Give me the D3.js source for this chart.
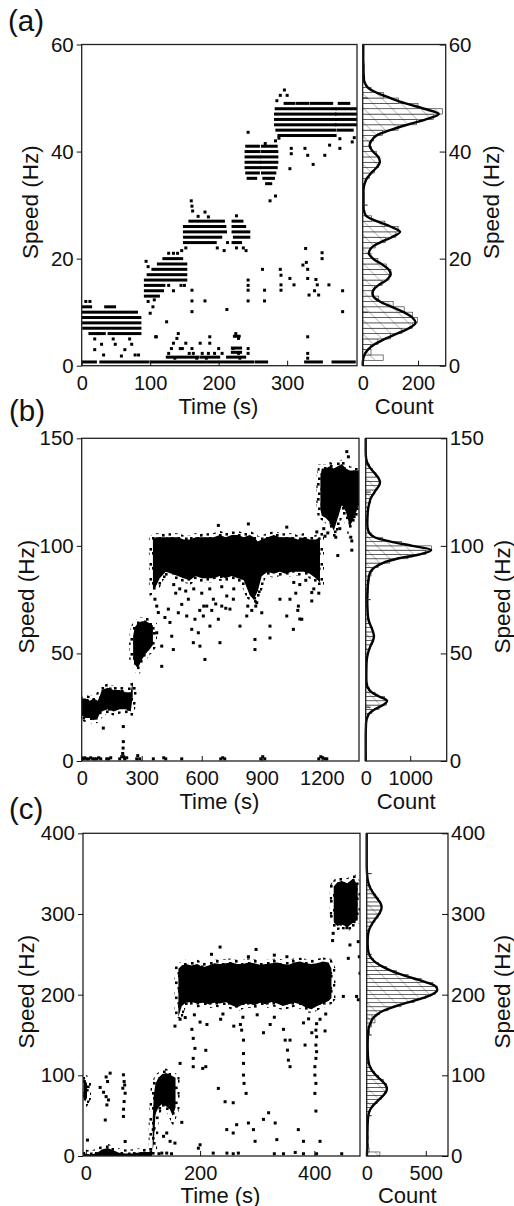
<!DOCTYPE html>
<html>
<head>
<meta charset="utf-8">
<script src="https://cdn.jsdelivr.net/npm/d3@7"></script>
<style>
body { margin: 0; background: #fff; }
</style>
</head>
<body>
<script>
var FONT = '"Liberation Sans", Arial, Helvetica, sans-serif';

/*
* Data
*/

// (a) horizontal runs of points: [t start, t end, speed]
var runsA = [
  [0,13,11],[35,48,11],[0,66,10],[70,80,10],[0,85,9],[0,85,8],[3,85,7],[12,33,6],[40,85,6],
  [93,112,13],[93,118,14],[93,120,15],[93,152,16],[97,152,17],[104,152,18],[112,152,19],[120,146,20],
  [158,207,27],[150,209,26],[150,210,25],[150,203,24],[150,195,23],
  [221,234,27],[221,238,26],[221,244,25],[223,244,24],[221,232,23],
  [241,258,41],[240,259,40],[240,260,39],[240,260,38],[240,260,37],[241,258,36],[243,254,35],
  [264,284,41],[264,285,40],[263,285,39],[263,285,38],[263,284,37],[264,282,36],[266,280,35],[270,276,34],
  [284,370,48],[283,370,47],[283,370,46],[283,370,45],[285,370,44],[288,370,43],
  [297,310,49],[315,330,49],[335,365,49],
  [373,401,48],[372,401,47],[372,401,46],[372,401,45],[375,395,44],[376,390,49],
  [0,4,0.7],[8,20,0.7],[28,96,0.7],[101,180,0.7],[184,250,0.7],[255,270,0.7],[327,350,0.7],[367,398,0.7],
  [125,170,1.6],[175,200,1.6],[213,238,1.6],[220,232,2.5],[220,232,3.3],[223,230,5.5]
];
// (a) isolated points: [t, speed]
var dotsA = [
  [6,12],[12,12],[19,5],[29,4],[19,3],[32,2],[46,5],[49,4],[63,3],[70,5],[73,4],[78,2],[83,2],[58,1.8],[24,6],
  [94,19.5],[97,18.5],[127,21],[134,21],[140,21],[146,21.5],[152,22],[106,12.3],[104,11],[100,9.8],[97,12],
  [127,15],[134,14],[145,15],[150,15],[124,8.2],[108,5.4],
  [160,30.8],[161,29.8],[162,28.9],[180,28.7],[170,27.9],[185,27.8],[198,22],[208,21.5],[226,28],[226,22],
  [236,22],[213,23],[240,21.5],
  [109,5.4],[141,6],[139,5.1],[134,4.2],[131,3.2],[127,2.3],[136,1.4],[144,3.2],[161,3.2],[163,2.3],[173,4.2],
  [187,5.4],[187,4.2],[185,2.3],[194,2.3],[182,1.4],[225,6],[229,5.1],[221,3.2],[229,2.3],[231,1.4],[243,3.2],
  [243,2.3],[152,4.2],[147,3.2],[157,2.3],[168,1.4],[176,2.3],[200,3.2],[205,2.3],[212,10.5],[161,10.1],
  [161,12.1],[161,14.1],[180,12.1],
  [243,43.6],[275,30.8],[283,31.7],[268,41.5],[283,42],
  [296,51.5],[290,50.5],[300,50.5],[285,49.5],[306,40.6],[306,39.6],[304,36.8],[326,40.6],[330,39.3],[338,37.6],
  [355,39.3],[362,41.2],[377,40.6],[377,42.4],[395,41.8],[398,42.6],[288,42.5],
  [243,16],[243,15],[243,14.1],[243,12.1],[264,18],[267,14.1],[267,12.1],[290,18],[291,16.9],[291,15.1],
  [291,14.1],[304,16.3],[310,15.1],[323,18.8],[330,18],[327,21.9],[330,16.3],[332,13.2],[342,16.1],[344,15.1],
  [340,14],[351,21.1],[351,20],[361,15.1],[381,14],[381,10.1],[330,5.4],[330,2.3],[330,1.4],[328,19.3],[346,13.2]
];
// (a) histogram, 1 Hz bins from 0 Hz
var histA = [2,74,30,28,55,100,142,180,198,180, 150,110,58,38,42,70,95,102,85,55,
  30,24,45,82,120,128,80,32,8,4, 3,3,4,5,11,24,42,58,62,50,
  32,26,40,72,128,195,255,288,200,130, 75,30,10,4,3,2,2,2,2,2];
// (a) fitted curve, count at every 1 Hz from 0 Hz
var fitA = [0,1,6,19,43,80,124,167,191,179, 148,105,62,38,37,56,86,101,93,68,
  37,22,31,62,105,135,100,50,12,4, 3,3,3,3,7,15,31,50,62,56,
  37,25,31,50,99,160,228,275,222,155, 100,50,18,6,4,3,3,2,2,2, 2];

// (b) dense clouds: [t, low speed, high speed]
var bandB1 = [[0,21,29],[20,20,29],[40,20,28],[60,19,29],[80,20,28],[90,22,30],[100,23,33],[130,24,34],
  [160,23,33],[190,24,33],[220,24,32],[245,23,32],[255,30,37]];
var bandB2 = [[257,48,58],[265,45,62],[280,43,64],[300,47,65],[320,50,65],[340,52,64],[356,54,63]];
var bandB3 = [[356,80,103],[370,81,104],[390,85,104],[420,88,104],[450,87,104],[480,86,104],[510,85,103],
  [540,84,103],[570,86,104],[600,85,104],[630,85,104],[660,85,104],[690,86,105],[720,85,104],[750,86,105],
  [780,85,105],[810,84,104],[840,77,105],[860,75,104],[880,79,102],[900,86,103],[930,88,104],[960,87,105],
  [990,88,104],[1020,87,104],[1050,88,104],[1080,88,103],[1110,88,104],[1140,87,103],[1170,85,103],[1191,83,104]];
var bandB4 = [[1193,117,132],[1200,114,136],[1220,113,136],[1240,111,137],[1260,107,136],[1280,113,137],
  [1300,119,138],[1320,116,136],[1340,109,135],[1360,113,135],[1386,119,135]];
var dotsB = [
  [366,75.2],[375,72],[383,69],[375,59.6],[400,53.4],[400,44],[416,66.7],[433,70.6],[441,64.4],[458,51.8],
  [450,58],[483,68.9],[500,72.8],[525,67.4],[533,75.2],[550,61.2],[558,55],[566,65.9],[583,59.6],[591,53.4],
  [608,67.4],[616,47.2],[625,72],[641,62.7],[658,75.2],[683,65.9],[691,55],[700,72],[725,76.7],[741,70.6],
  [758,75.2],[791,62.7],[825,67.4],[866,56.5],[866,51.8],[875,73.6],[900,68.9],[941,62.7],[941,57.2],
  [991,75.2],[1025,67.4],[1041,75.2],[1058,61.2],[1083,72],[1100,65.9],[1150,78.3],[1150,74.4],
  [1280,95.5],[1350,102.3],[1216,104.5],[1325,143.8],[1333,141.4],[683,109.5],[833,110.2],[1025,108.7],
  [1175,106.5],[208,16],[108,15.3],
  [460,82],[470,78],[490,80],[520,79],[560,80],[600,78],[640,80],[700,81],[760,80],[830,72],[850,70],
  [870,72],[1060,83],[1090,82],[1120,84],[1160,80],[1185,78],[590,70],[610,72],[650,70],[670,73],[720,71],
  [1070,78],[1080,70],[1090,66],
  [1210,108],[1230,106],[1270,104],[1290,108],[1345,104],[1350,98],
  [0,1],[8,1],[15,1.5],[25,1],[35,1],[45,1.5],[55,1],[65,1],[75,1],[85,1.5],[95,1],[125,1],[135,1],[145,1.5],
  [190,1],[200,2],[205,3.5],[207,6],[208,9],[210,2],[215,1],[225,1.5],[275,1],[280,2.5],[290,1],[358,1],
  [410,1.5],[420,1],[500,1],[695,1],[705,1.5],[715,1],[895,1],[905,2],[915,1],[1185,1],[1195,2],[1205,1.5],
  [1215,1],[1225,1]
];
// (b) histogram, 2 Hz bins from 0 Hz
var histB = [20,3,2,2,2,2,2,3,6,18, 50,140,300,470,420,210,90,35,18,14,
  14,16,18,24,40,65,100,145,180,180, 150,110,75,55,45,40,40,45,50,55,
  60,70,90,120,160,290,540,950,1350,1480, 800,380,130,60,40,38,40,45,55,72,
  98,140,200,265,315,300,230,150,80,30, 8,2,0,0,0];
// (b) fitted curve, count at every 2 Hz from 0 Hz
var fitB = [0,0,0,0,0,0,0,2,5,10, 30,75,200,390,480,300,130,50,22,15,
  14,15,17,20,30,50,80,120,165,185, 165,130,90,60,48,42,38,36,36,38,
  42,50,60,75,110,200,380,700,1200,1470, 1050,560,200,80,45,37,38,42,48,60,
  85,110,170,230,300,320,270,190,110,50, 15,3,0,0,0,0];

// (c) dense clouds
var bandC0 = [[-4,0,3],[10,0,2],[20,0,4],[28,0,8],[38,0,10],[48,0,7],[58,0,4],[70,0,3],[80,0,3],
  [90,0,4],[100,0,5],[110,0,5],[116,0,7]];
var bandC4 = [[-4,70,93],[-1,68,94],[2,72,90]];
var bandC1 = [[117,6,45],[119,18,76],[122,52,90],[127,60,97],[133,64,101],[140,62,103],[147,58,101],
  [152,50,99],[157,60,97]];
var bandC2 = [[162,172,232],[168,186,236],[175,190,238],[185,191,236],[195,189,238],[205,190,234],
  [215,188,236],[225,190,239],[235,189,238],[245,191,239],[255,187,240],[265,184,238],[275,188,238],
  [285,189,240],[295,187,239],[305,190,237],[315,188,238],[325,191,239],[335,189,240],[345,186,238],
  [355,188,237],[365,190,240],[375,188,241],[385,184,239],[395,182,238],[405,186,239],[415,189,241],
  [425,192,240],[430,196,232]];
var bandC3 = [[434,290,334],[440,285,339],[448,287,341],[458,284,338],[468,289,344],[476,294,336]];
var dotsC = [
  [25,85],[31,79],[35.5,98],[35.5,73.6],[39.6,69.5],[34,44.6],[42.5,102.7],[38,92.3],[36.8,63.3],
  [65.8,100.6],[67,92.3],[64.7,84],[68.8,77.8],[67,67.5],[65.8,49],[66,58],[68,88],[68.8,18],
  [2.8,19.7],[168,41.7],[141.6,28.5],[147.5,18.2],[156,16],[118,32.7],[136,24.4],
  [165,114.8],[188,145.8],[191,133.4],[188,121],[188,110.7],[210,131],[210,110.7],[204.6,108.6],[232,83.8],
  [243.8,67.3],[258,66],[246.7,32.7],[258,28.5],[264,38.8],[272.8,156],[276,143.6],[276,127],[276,114.8],
  [276,100.3],[277,90],[280.6,77.6],[284.6,40.9],[293.4,32.7],[296.3,18.2],[311,45.4],[320,53.6],[331.5,40.9],
  [334.4,20.3],[349,143.6],[353,131.2],[354.6,118.8],[357.5,110.7],[372,32.7],[383.8,137.5],[381,18.2],
  [401,77.6],[402.8,90],[401,100.3],[401,110.7],[402.8,121],[404,129.3],[402.8,137.5],[404,147.8],[402.8,156],
  [404,164],[402.8,55.7],[410,18.2],[450.8,197.8],[459.5,245],[462.4,261.6],[477,265.7],[478.8,247],
  [480,226.5],[474,197.8],[477,193.7],[432,267],[433,276],[457,283],
  [235,259],[298,256],[284.6,247],[352,247],[220,250],[330,249],
  [200,13.9],[223,3.6],[247,3.6],[258,2.8],[267,3.6],[330,2.8],[346,2.8],[366.6,4.4],[381,2.8],[404,2.8],
  [448,2.8],[197,9.7],[133,3.6],[128,2.8],[141.6,3.6],[150,2.8],
  [156,161],[165,169.5],[174,171.6],[185.6,157],[200,166],[212,163],[236,169.5],[259,161],[270.6,163],
  [311,152.8],[322.7,163],[346,157],[357.5,143.6],[381,165],[395.6,152.8],[410,169.5],[418.8,155],[300,175],
  [240,176],[190,175],[275,172],[330,172],[390,170],[420,176]
];
// (c) histogram, 5 Hz bins from 0 Hz
var histC = [112,20,15,10,12,8,10,8,10,12, 15,30,50,90,125,150,165,168,140,100,
  65,40,22,15,12,10,9,8,10,12, 25,18,40,70,45,110,180,290,400,500,
  580,600,560,460,350,250,165,100,55,30, 15,10,8,8,10,15,25,45,70,95,
  115,125,120,100,75,48,30,15,8,4, 2,0,0,0,0,0,0,0,0,0];
// (c) fitted curve, count at every 5 Hz from 0 Hz
var fitC = [2,3,4,5,5,6,6,7,8,10, 14,22,40,70,105,140,165,170,150,115,
  80,50,30,18,13,10,9,8,8,9, 10,13,20,32,50,85,140,230,340,460,
  550,595,585,510,400,290,200,130,75,40, 20,12,9,8,9,12,20,35,55,80,
  105,122,125,110,85,60,38,22,12,6, 3,1,0,0,0,0,0,0,0,0, 0];

// axis ticks
var timeTicksA = [0,100,200,300], speedTicksA = [0,20,40,60], countTicksA = [0,200];
var timeTicksB = [0,300,600,900,1200], speedTicksB = [0,50,100,150], countTicksB = [0,1000];
var timeTicksC = [0,200,400], speedTicksC = [0,100,200,300,400], countTicksC = [0,500];

/*
* Layout
*/
var svg = d3.select("body").append("svg")
  .attr("width", 514)
  .attr("height", 1206);

var defs = svg.append("defs");

// diagonal hatching of the histogram bars
var hatch = defs.append("pattern")
  .attr("id", "hatch")
  .attr("patternUnits", "userSpaceOnUse")
  .attr("width", 10).attr("height", 10)
  .attr("patternTransform", "rotate(-45)");
hatch.append("rect").attr("width", 10).attr("height", 10).attr("fill", "#fff");
hatch.append("line").attr("x1", 0).attr("y1", 0).attr("x2", 0).attr("y2", 10)
  .attr("stroke", "#9a9a9a").attr("stroke-width", 1.2);

// speckled fringe around the dense clouds (irregular tile)
var speckle = defs.append("pattern")
  .attr("id", "speckle")
  .attr("patternUnits", "userSpaceOnUse")
  .attr("width", 19).attr("height", 15);
[[1,2],[7,0],[13,3],[16.5,8],[4,6.5],[10,9],[0,12],[14,12.5],[6.5,12],[11,5.5]].forEach(function (p) {
  speckle.append("rect").attr("x", p[0]).attr("y", p[1]).attr("width", 2.6).attr("height", 2.6).attr("fill", "#000");
});

var fmt = d3.format("d");

function styleAxis(sel, size) {
  sel.select(".domain").remove();
  sel.selectAll("line").attr("stroke", "#111").attr("stroke-width", 1);
  sel.selectAll("text").attr("font-family", FONT).attr("font-size", size).attr("fill", "#111");
}

function drawPanel(L, D) {
  var x = d3.scaleLinear().domain(D.timeDomain).range([L.sLeft, L.sRight]);
  var y = d3.scaleLinear().domain(D.speedDomain).range([L.bottom, L.top]);
  var xh = d3.scaleLinear().domain(D.countDomain).range([L.hLeft, L.hRight]);

  defs.append("clipPath").attr("id", "clip" + D.id)
    .append("rect")
    .attr("x", L.sLeft).attr("y", L.top)
    .attr("width", L.sRight - L.sLeft).attr("height", L.bottom - L.top);

  var plot = svg.append("g").attr("clip-path", "url(#clip" + D.id + ")");

  // dense clouds
  var area = d3.area()
    .x(function (d) { return x(d[0]); })
    .y0(function (d) { return y(d[1]); })
    .y1(function (d) { return y(d[2]); });
  D.bands.forEach(function (b) {
    plot.append("path").datum(b).attr("d", area)
      .attr("fill", "none").attr("stroke", "url(#speckle)").attr("stroke-width", 8);
    plot.append("path").datum(b).attr("d", area).attr("fill", "#000");
  });

  // rows of points
  plot.selectAll("rect.run").data(D.runs).join("rect")
    .attr("class", "run")
    .attr("x", function (d) { return x(d[0]) - 1.5; })
    .attr("width", function (d) { return x(d[1]) - x(d[0]) + 3; })
    .attr("y", function (d) { return y(d[2]) - 1.5; })
    .attr("height", 3)
    .attr("fill", "#000");

  plot.selectAll("rect.dot").data(D.dots).join("rect")
    .attr("class", "dot")
    .attr("x", function (d) { return x(d[0]) - 1.5; })
    .attr("y", function (d) { return y(d[1]) - 1.5; })
    .attr("width", 3).attr("height", 3)
    .attr("fill", "#000");

  // histogram
  var hist = svg.append("g");
  hist.selectAll("rect").data(D.hist).join("rect")
    .attr("x", xh(0))
    .attr("y", function (d, i) { return y((i + 1) * D.binWidth); })
    .attr("width", function (d) { return xh(d) - xh(0); })
    .attr("height", function (d, i) { return y(i * D.binWidth) - y((i + 1) * D.binWidth); })
    .attr("fill", "url(#hatch)")
    .attr("stroke", "#222").attr("stroke-width", 0.6);

  var line = d3.line()
    .x(function (d) { return xh(d); })
    .y(function (d, i) { return y(i * D.fitStep); })
    .curve(d3.curveCatmullRom.alpha(0.5));
  hist.append("path").datum(D.fit).attr("d", line)
    .attr("fill", "none").attr("stroke", "#000").attr("stroke-width", 2.4)
    .attr("stroke-linejoin", "round");

  // frames
  svg.append("rect")
    .attr("x", L.sLeft).attr("y", L.top)
    .attr("width", L.sRight - L.sLeft).attr("height", L.bottom - L.top)
    .attr("fill", "none").attr("stroke", "#222").attr("stroke-width", 1.3);
  svg.append("rect")
    .attr("x", L.hLeft).attr("y", L.top)
    .attr("width", L.hRight - L.hLeft).attr("height", L.bottom - L.top)
    .attr("fill", "none").attr("stroke", "#222").attr("stroke-width", 1.3);

  // minor ticks on the histogram's left edge
  svg.selectAll(null).data(D.minorTicks).join("line")
    .attr("x1", L.hLeft).attr("x2", L.hLeft + 5)
    .attr("y1", function (d) { return y(d); }).attr("y2", function (d) { return y(d); })
    .attr("stroke", "#222").attr("stroke-width", 1);

  // axes
  svg.append("g").attr("transform", "translate(0," + L.bottom + ")")
    .call(d3.axisBottom(x).tickValues(D.timeTicks).tickFormat(fmt).tickSize(-5).tickPadding(9.8))
    .call(styleAxis, 20);
  svg.append("g").attr("transform", "translate(" + L.sLeft + ",0)")
    .call(d3.axisLeft(y).tickValues(D.speedTicks).tickFormat(fmt).tickSize(5).tickPadding(3))
    .call(styleAxis, 20.5);
  svg.append("g").attr("transform", "translate(0," + L.bottom + ")")
    .call(d3.axisBottom(xh).tickValues(D.countTicks).tickFormat(fmt).tickSize(-5).tickPadding(9.8))
    .call(styleAxis, 20);
  svg.append("g").attr("transform", "translate(" + L.hRight + ",0)")
    .call(d3.axisRight(y).tickValues(D.speedTicks).tickFormat(fmt).tickSize(-6).tickPadding(3))
    .call(styleAxis, 20.5);

  // titles
  var mid = (L.top + L.bottom) / 2 - 3;
  svg.append("text")
    .attr("transform", "translate(" + L.leftTitleX + "," + mid + ") rotate(-90)")
    .attr("text-anchor", "middle").attr("font-family", FONT).attr("font-size", 22.5).attr("fill", "#111")
    .text("Speed (Hz)");
  svg.append("text")
    .attr("transform", "translate(" + L.rightTitleX + "," + mid + ") rotate(-90)")
    .attr("text-anchor", "middle").attr("font-family", FONT).attr("font-size", 22.5).attr("fill", "#111")
    .text("Speed (Hz)");
  svg.append("text")
    .attr("x", (L.sLeft + L.sRight) / 2 - 1).attr("y", L.bottom + L.titleDy)
    .attr("text-anchor", "middle").attr("font-family", FONT).attr("font-size", 22).attr("fill", "#111")
    .text("Time (s)");
  svg.append("text")
    .attr("x", (L.hLeft + L.hRight) / 2).attr("y", L.bottom + L.titleDy)
    .attr("text-anchor", "middle").attr("font-family", FONT).attr("font-size", 22).attr("fill", "#111")
    .text("Count");
  svg.append("text")
    .attr("x", L.labelX).attr("y", L.labelY)
    .attr("font-family", FONT).attr("font-size", 29.5).attr("fill", "#111")
    .text(D.label);
}

drawPanel(
  {top: 44.5, bottom: 365.7, sLeft: 81.7, sRight: 357, hLeft: 362.7, hRight: 445.7,
   leftTitleX: 38, rightTitleX: 498.5, labelX: 8, labelY: 31, titleDy: 48},
  {id: "a", label: "(a)", timeDomain: [0, 402], speedDomain: [0, 60], countDomain: [0, 300],
   bands: [], runs: runsA, dots: dotsA, hist: histA, binWidth: 1, fit: fitA, fitStep: 1,
   timeTicks: timeTicksA, speedTicks: speedTicksA, countTicks: countTicksA, minorTicks: [10, 30, 50]}
);
drawPanel(
  {top: 438.3, bottom: 761, sLeft: 81.7, sRight: 359, hLeft: 365.7, hRight: 446.7,
   leftTitleX: 34, rightTitleX: 510, labelX: 9, labelY: 421, titleDy: 48},
  {id: "b", label: "(b)", timeDomain: [0, 1386], speedDomain: [0, 150], countDomain: [0, 1820],
   bands: [bandB1, bandB2, bandB3, bandB4], runs: [], dots: dotsB, hist: histB, binWidth: 2, fit: fitB, fitStep: 2,
   timeTicks: timeTicksB, speedTicks: speedTicksB, countTicks: countTicksB, minorTicks: [25, 75, 125]}
);
drawPanel(
  {top: 833.3, bottom: 1156, sLeft: 83, sRight: 360, hLeft: 366.7, hRight: 448,
   leftTitleX: 33.5, rightTitleX: 510, labelX: 9, labelY: 819, titleDy: 46.5},
  {id: "c", label: "(c)", timeDomain: [-5, 480], speedDomain: [0, 400], countDomain: [0, 688],
   bands: [bandC0, bandC4, bandC1, bandC2, bandC3], runs: [], dots: dotsC, hist: histC, binWidth: 5, fit: fitC, fitStep: 5,
   timeTicks: timeTicksC, speedTicks: speedTicksC, countTicks: countTicksC, minorTicks: [50, 150, 250, 350]}
);
</script>
</body>
</html>
